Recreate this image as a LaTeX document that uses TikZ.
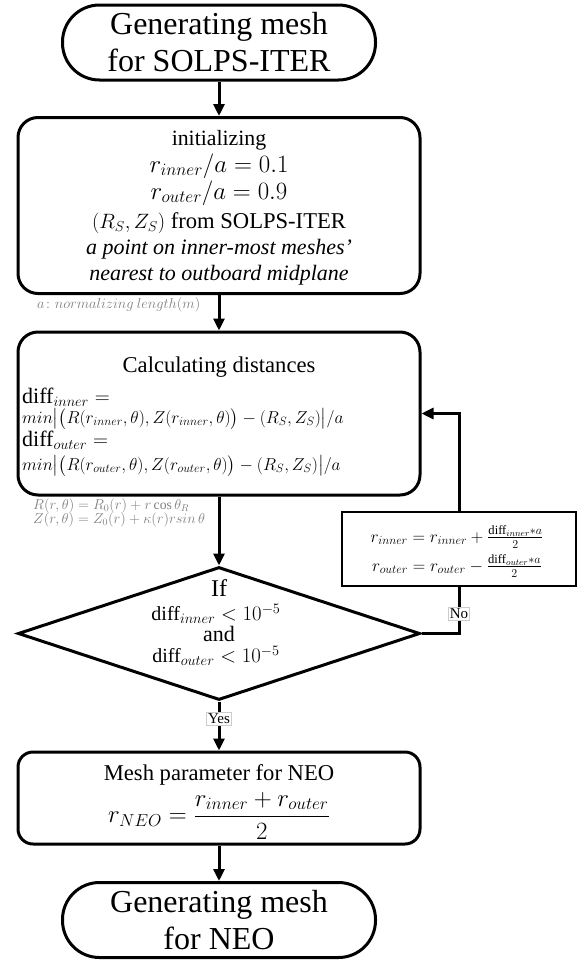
\documentclass[tikz,border=0pt]{standalone}
\usepackage{amsmath}
\usepackage{fontspec}
\setmainfont{Liberation Serif}
\usetikzlibrary{shapes.geometric,arrows.meta}
\newcommand{\bigmath}[1]{{\fontsize{24}{24}\selectfont$#1$}}
\begin{document}
\begin{tikzpicture}[x=1pt,y=-1pt,
  thickline/.style={line width=3pt},
  arr/.style={line width=3pt,-{Triangle[width=11pt,length=12pt]}},
  term/.style={draw,line width=3pt,rounded corners=37pt,minimum width=313pt,minimum height=75pt,inner sep=0pt,align=center,font=\fontsize{32}{37}\selectfont},
  rbox/.style={draw,line width=3pt,rounded corners=20pt,minimum width=402pt,inner sep=0pt},
  body/.style={font=\fontsize{22.6}{27.4}\selectfont,inner sep=0pt},
  bline/.style={body,anchor=base},
  dline/.style={font=\fontsize{22}{24}\selectfont,anchor=base west,inner sep=0pt},
  mline/.style={font=\fontsize{18.6}{21}\selectfont,anchor=base west,inner sep=0pt},
  dtext/.style={font=\fontsize{20}{22}\selectfont,inner sep=0pt},
  note/.style={text=gray,font=\fontsize{13.7}{15}\selectfont,anchor=west,inner sep=0pt},
  lbl/.style={draw=gray!40,fill=white,line width=0.6pt,font=\fontsize{15}{16}\selectfont,inner sep=1.5pt}
]
\useasboundingbox (0,0) rectangle (577,961);

% terminals and boxes
\node (top) [term] at (219,42.5) {Generating mesh\\for SOLPS-ITER};

\node (init) [rbox,minimum height=176pt] at (219,205.5) {};
\node (i1) [bline,font=\fontsize{21.8}{26}\selectfont] at (219,145) {initializing};
\node (i2) [bline] at (219,172) {\bigmath{r_{inner}/a=0.1}};
\node (i3) [bline] at (219,199) {\bigmath{r_{outer}/a=0.9}};
\node (i4) [bline] at (219,228) {$(R_S,Z_S)$ from SOLPS-ITER};
\node (i5) [bline,font=\fontsize{22}{26}\selectfont] at (219,254) {\textit{a point on inner-most meshes’}};
\node (i6) [bline,font=\fontsize{22}{26}\selectfont] at (219,280) {\textit{nearest to outboard midplane}};
\node (normnote) [note] at (37,305) {$a\colon normalizing\ length(m)$};

\node (calc) [rbox,minimum height=163pt] at (219,413.5) {};
\node (calctitle) [bline] at (219,372) {Calculating distances};
\node (c1) [dline] at (22,403) {diff$_{inner}=$};
\node (c2) [mline] at (22,423) {$min\big|\big(R(r_{inner},\theta),Z(r_{inner},\theta)\big)-(R_S,Z_S)\big|/a$};
\node (c3) [dline] at (22,446) {diff$_{outer}=$};
\node (c4) [mline] at (22,470) {$min\big|\big(R(r_{outer},\theta),Z(r_{outer},\theta)\big)-(R_S,Z_S)\big|/a$};
\node (rnote) [note] at (33,506) {$R(r,\theta)=R_0(r)+r\cos\theta_R$};
\node (znote) [note] at (33,520) {$Z(r,\theta)=Z_0(r)+\kappa(r)r sin\,\theta$};

\node (upd) [draw,line width=2pt,minimum width=234pt,minimum height=74pt,inner sep=0pt] at (459,549) {};
\node (u1) [font=\fontsize{18}{19}\selectfont,inner sep=0pt] at (457,537) {$r_{inner}=r_{inner}+\frac{\text{diff}_{inner}*a}{2}$};
\node (u2) [font=\fontsize{18}{19}\selectfont,inner sep=0pt] at (457,566) {$r_{outer}=r_{outer}-\frac{\text{diff}_{outer}*a}{2}$};

\node (cond) [diamond,draw,line width=3pt,minimum width=402pt,minimum height=133pt,inner sep=0pt] at (219,633.5) {};
\node (ift) [font=\fontsize{24}{26}\selectfont,inner sep=0pt] at (219,588) {If};
\node (d1) [dtext] at (216,614) {diff$_{inner}<10^{-5}$};
\node (dand) [font=\fontsize{22}{24}\selectfont,inner sep=0pt] at (219,634) {and};
\node (d2) [dtext] at (216,656) {diff$_{outer}<10^{-5}$};

\node (mesh) [rbox,rounded corners=15pt,minimum height=92pt] at (219,798) {};
\node (meshtitle) [body] at (219,775) {Mesh parameter for NEO};
\node (meshf) [font=\fontsize{24}{26}\selectfont,inner sep=0pt] at (219,816) {$r_{NEO}=\dfrac{r_{inner}+r_{outer}}{2}$};

\node (bot) [term] at (219,920) {Generating mesh\\for NEO};

% connectors
\draw[arr] (top.south) -- (init.north);
\draw[arr] (init.south) -- (calc.north);
\draw[arr] (calc.south) -- (cond.north);
\draw[arr] (cond.south) -- (mesh.north);
\draw[arr] (mesh.south) -- (bot.north);
\draw[thickline] (cond.east) -| (upd.south);
\draw[arr] (upd.north) |- (calc.east);
\node (yes) [lbl] at (219,719) {Yes};
\node (no) [lbl] at (459,614) {No};
\end{tikzpicture}
\end{document}
